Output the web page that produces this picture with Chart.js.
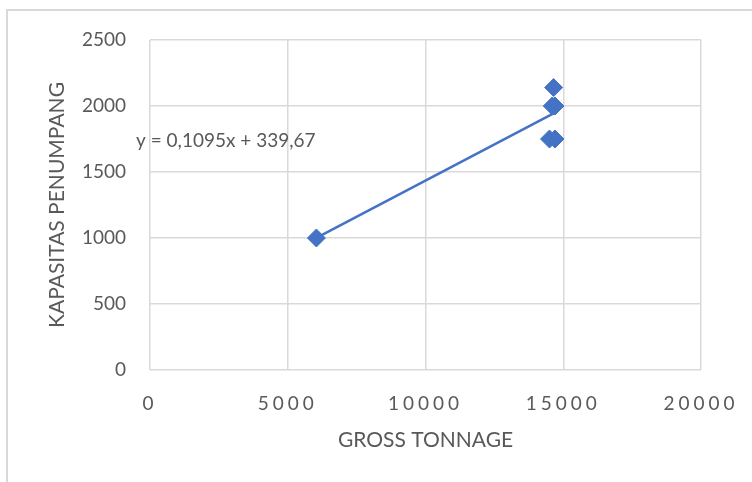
<!DOCTYPE html>
<html>
<head>
<meta charset="utf-8">
<title>Kapasitas Penumpang vs Gross Tonnage</title>
<script src="https://cdn.jsdelivr.net/npm/chart.js@4/dist/chart.umd.min.js"></script>
<style>
  html, body { margin: 0; padding: 0; background: #ffffff; }
  #wrap { width: 752px; height: 482px; position: relative; }
</style>
</head>
<body>
<div id="wrap"><canvas id="chart" width="752" height="482"></canvas></div>
<script>
// Observed ships: gross tonnage against passenger capacity
const grossTonnage = [6040, 14650, 14600, 14700, 14500, 14700];
const passengerCapacity = [1000, 2140, 2000, 2000, 1750, 1750];

// Linear trend line fitted to the observations
const trendSlope = 0.1095;
const trendIntercept = 339.67;
const trendLabel = 'y = 0,1095x + 339,67';

// Axis ranges and tick steps
const xTicks = [0, 5000, 10000, 15000, 20000];
const yTicks = [0, 500, 1000, 1500, 2000, 2500];

const xTitle = 'GROSS TONNAGE';
const yTitle = 'KAPASITAS PENUMPANG';

const BLUE = '#4472C4';
const GRID = '#d9d9d9';
const TEXT = '#595959';
const FONT = 'Lato';

const points = grossTonnage.map((x, i) => ({ x: x, y: passengerCapacity[i] }));
const xMin = Math.min(...grossTonnage);
const xMax = Math.max(...grossTonnage);
const trendPoints = [
  { x: xMin, y: trendSlope * xMin + trendIntercept },
  { x: xMax, y: trendSlope * xMax + trendIntercept }
];

// Light frame around the chart object
const framePlugin = {
  id: 'frame',
  beforeDraw(chart) {
    const ctx = chart.ctx;
    ctx.save();
    ctx.strokeStyle = GRID;
    ctx.lineWidth = 2;
    ctx.beginPath();
    ctx.moveTo(7, chart.height);
    ctx.lineTo(7, 10);
    ctx.lineTo(chart.width, 10);
    ctx.stroke();
    ctx.restore();
  }
};

// Wider letter spacing on the horizontal axis numbers
const spacedTicksPlugin = {
  id: 'spacedTicks',
  beforeDraw(chart) {
    const s = chart.scales.x;
    if (s && !s.__spaced) {
      const orig = s.drawLabels.bind(s);
      s.drawLabels = function (area) {
        const ctx = this.ctx;
        ctx.save();
        ctx.letterSpacing = '4px';
        orig(area);
        ctx.restore();
      };
      s.__spaced = true;
    }
  }
};

// Trend line equation text
const equationPlugin = {
  id: 'equation',
  afterDatasetsDraw(chart) {
    const ctx = chart.ctx;
    const area = chart.chartArea;
    ctx.save();
    ctx.font = '19px ' + FONT;
    ctx.fillStyle = TEXT;
    ctx.textAlign = 'left';
    ctx.textBaseline = 'middle';
    ctx.fillText(trendLabel, area.left - 14, area.top + 101);
    ctx.restore();
  }
};

new Chart(document.getElementById('chart'), {
  type: 'scatter',
  data: {
    datasets: [
      {
        type: 'scatter',
        label: 'Kapasitas',
        data: points,
        pointStyle: 'rectRot',
        pointRadius: 9,
        pointHoverRadius: 9,
        backgroundColor: BLUE,
        borderColor: BLUE,
        borderWidth: 1,
        order: 0
      },
      {
        type: 'line',
        label: 'Linear',
        data: trendPoints,
        borderColor: BLUE,
        borderWidth: 2.5,
        pointRadius: 0,
        fill: false,
        order: 1
      }
    ]
  },
  options: {
    responsive: false,
    animation: false,
    layout: { padding: { left: 0, top: 40, right: 51, bottom: 0 } },
    plugins: {
      legend: { display: false },
      tooltip: { enabled: false }
    },
    scales: {
      x: {
        type: 'linear',
        min: xTicks[0],
        max: xTicks[xTicks.length - 1],
        afterBuildTicks(scale) { scale.ticks = xTicks.map(v => ({ value: v })); },
        afterFit(scale) { scale.height = 112; },
        grid: { color: GRID, lineWidth: 1.5, drawTicks: false },
        border: { display: false },
        ticks: {
          padding: 22,
          color: TEXT,
          font: { family: FONT, size: 19 },
          maxRotation: 0,
          callback: v => String(v)
        },
        title: {
          display: true,
          text: xTitle,
          color: TEXT,
          font: { family: FONT, size: 21 },
          padding: { top: 0, bottom: 29 }
        }
      },
      y: {
        type: 'linear',
        min: yTicks[0],
        max: yTicks[yTicks.length - 1],
        afterBuildTicks(scale) { scale.ticks = yTicks.map(v => ({ value: v })); },
        afterFit(scale) { scale.width = 150; },
        grid: { color: GRID, lineWidth: 1.5, drawTicks: false },
        border: { display: false },
        ticks: {
          padding: 24,
          color: TEXT,
          font: { family: FONT, size: 19 },
          callback: v => String(v)
        },
        title: {
          display: true,
          text: yTitle,
          color: TEXT,
          font: { family: FONT, size: 21 },
          padding: { top: 45, bottom: 0 }
        }
      }
    }
  },
  plugins: [framePlugin, spacedTicksPlugin, equationPlugin]
});
</script>
</body>
</html>
